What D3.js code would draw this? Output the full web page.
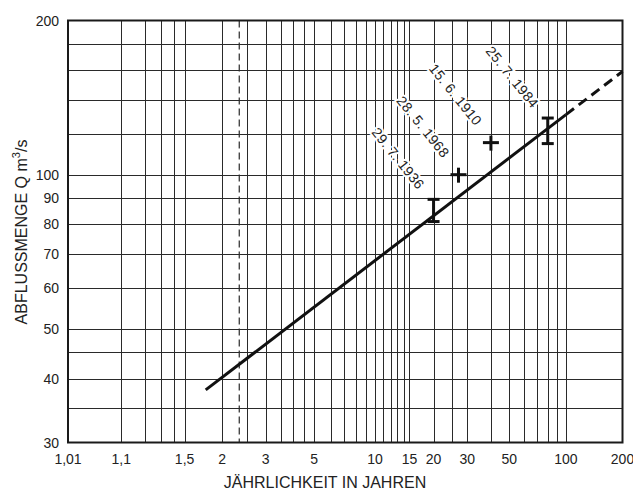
<!DOCTYPE html>
<html>
<head>
<meta charset="utf-8">
<script src="https://cdn.jsdelivr.net/npm/d3@7"></script>
<style>
  body { margin: 0; background: #fff; }
  svg text { font-family: "Liberation Sans", Arial, sans-serif; fill: #222; }
</style>
</head>
<body>
<svg width="633" height="491"></svg>
<script>
// Return periods (years) for x ticks and grid
var xTickValues = [1.01, 1.1, 1.5, 2, 3, 5, 10, 15, 20, 30, 50, 100, 200];
var xTickLabels = ['1,01', '1,1', '1,5', '2', '3', '5', '10', '15', '20', '30', '50', '100', '200'];
var xGridValues = [1.1, 1.2, 1.3, 1.4, 1.5, 2, 2.5, 3, 3.5, 4, 4.5, 5, 6, 7, 8, 9,
    10, 11, 12, 13, 14, 15, 20, 25, 30, 40, 50, 60, 70, 80, 90, 100];
var meanFloodT = 2.33;

// Discharge (m3/s) ticks and grid
var yTickValues = [30, 40, 50, 60, 70, 80, 90, 100, 200];
var yGridValues = [35, 40, 45, 50, 60, 70, 80, 90, 100, 120, 140, 160, 180];

// Flood events
var eventLabels = ['29. 7. 1936', '28. 5. 1968', '15. 6. 1910', '25. 7. 1984'];
var eventT = [20, 27, 40, 80];
var eventQ = [85, 100, 115.5, 122];
var eventLow = [81, null, null, 115];
var eventHigh = [89.5, null, null, 129];

// Fitted line (solid up to 100 years, dashed beyond)
var fitT = [1.75, 100, 200];
var fitQ = [38, 131, 159];

var svg = d3.select('svg');
var padding = {t: 20.5, r: 10.5, b: 48.5, l: 68};
var svgWidth = +svg.attr('width');
var svgHeight = +svg.attr('height');

// Gumbel reduced variate
function gumbel(T) {
    return -Math.log(-Math.log(1 - 1 / T));
}

var gScale = d3.scaleLinear()
    .domain([gumbel(1.01), gumbel(200)])
    .range([padding.l, svgWidth - padding.r]);
var xScale = function(T) { return gScale(gumbel(T)); };

var yScale = d3.scaleLog()
    .domain([30, 200])
    .range([svgHeight - padding.b, padding.t]);

var x0 = xScale(1.01), x1 = xScale(200);
var y0 = yScale(30), y1 = yScale(200);

var gridG = svg.append('g').attr('stroke', '#2a2a2a').attr('stroke-width', 1);

gridG.selectAll('.vgrid')
    .data(xGridValues)
    .enter().append('line')
    .attr('class', 'vgrid')
    .attr('x1', function(d) { return Math.round(xScale(d)) + 0.5; })
    .attr('x2', function(d) { return Math.round(xScale(d)) + 0.5; })
    .attr('y1', y1).attr('y2', y0);

gridG.selectAll('.hgrid')
    .data(yGridValues)
    .enter().append('line')
    .attr('class', 'hgrid')
    .attr('y1', function(d) { return Math.round(yScale(d)) + 0.5; })
    .attr('y2', function(d) { return Math.round(yScale(d)) + 0.5; })
    .attr('x1', x0).attr('x2', x1);

// mean annual flood, dashed
svg.append('line')
    .attr('x1', xScale(meanFloodT)).attr('x2', xScale(meanFloodT))
    .attr('y1', y1).attr('y2', y0)
    .attr('stroke', '#2a2a2a')
    .attr('stroke-width', 1.2)
    .attr('stroke-dasharray', '7,4');

// frame
svg.append('rect')
    .attr('x', x0).attr('y', y1)
    .attr('width', x1 - x0).attr('height', y0 - y1)
    .attr('fill', 'none')
    .attr('stroke', '#1a1a1a')
    .attr('stroke-width', 2);

// tick labels
svg.selectAll('.xlabel')
    .data(xTickValues)
    .enter().append('text')
    .attr('class', 'xlabel')
    .attr('x', function(d) { return xScale(d); })
    .attr('y', y0 + 21)
    .attr('text-anchor', 'middle')
    .attr('font-size', 14)
    .text(function(d, i) { return xTickLabels[i]; });

svg.selectAll('.ylabel')
    .data(yTickValues)
    .enter().append('text')
    .attr('class', 'ylabel')
    .attr('x', x0 - 9)
    .attr('y', function(d) { return yScale(d); })
    .attr('dy', '0.36em')
    .attr('text-anchor', 'end')
    .attr('font-size', 14)
    .text(function(d) { return d; });

// axis titles
svg.append('text')
    .attr('x', 325)
    .attr('y', 488)
    .attr('text-anchor', 'middle')
    .attr('font-size', 16)
    .text('JÄHRLICHKEIT IN JAHREN');

var yTitle = svg.append('text')
    .attr('transform', 'translate(26.5,' + 232 + ') rotate(-90)')
    .attr('text-anchor', 'middle')
    .attr('font-size', 16);
yTitle.append('tspan').text('ABFLUSSMENGE Q m');
yTitle.append('tspan').attr('dy', -7).attr('font-size', 11).text('3');
yTitle.append('tspan').attr('dy', 7).text('/s');

// fitted line
var line = d3.line()
    .x(function(d) { return xScale(d[0]); })
    .y(function(d) { return yScale(d[1]); });

svg.append('path')
    .datum([[fitT[0], fitQ[0]], [fitT[1], fitQ[1]]])
    .attr('d', line)
    .attr('fill', 'none')
    .attr('stroke', '#111')
    .attr('stroke-width', 3);

svg.append('path')
    .datum([[fitT[1], fitQ[1]], [fitT[2], fitQ[2]]])
    .attr('d', line)
    .attr('fill', 'none')
    .attr('stroke', '#111')
    .attr('stroke-width', 3)
    .attr('stroke-dasharray', '10,6');

// events: I-bars for ranges, crosses otherwise
var events = eventLabels.map(function(label, i) {
    return {label: label, T: eventT[i], Q: eventQ[i], low: eventLow[i], high: eventHigh[i]};
});

var evG = svg.selectAll('.event')
    .data(events)
    .enter().append('g')
    .attr('class', 'event')
    .attr('stroke', '#111')
    .attr('stroke-width', 3);

evG.each(function(d) {
    var g = d3.select(this);
    var cx = xScale(d.T);
    if (d.low != null) {
        var yl = yScale(d.low), yh = yScale(d.high);
        g.append('line').attr('x1', cx).attr('x2', cx).attr('y1', yh).attr('y2', yl);
        g.append('line').attr('x1', cx - 6).attr('x2', cx + 6).attr('y1', yh).attr('y2', yh);
        g.append('line').attr('x1', cx - 6).attr('x2', cx + 6).attr('y1', yl).attr('y2', yl);
        d.top = yh;
    } else {
        var cy = yScale(d.Q);
        g.append('line').attr('x1', cx).attr('x2', cx).attr('y1', cy - 7).attr('y2', cy + 8);
        g.append('line').attr('x1', cx - 8).attr('x2', cx + 8).attr('y1', cy).attr('y2', cy);
        d.top = cy - 7;
    }
});

svg.selectAll('.evlabel')
    .data(events)
    .enter().append('text')
    .attr('class', 'evlabel')
    .attr('transform', function(d) {
        return 'translate(' + [xScale(d.T) - 12, d.top - 12] + ') rotate(51)';
    })
    .attr('text-anchor', 'end')
    .attr('dy', '0.35em')
    .attr('font-size', 14)
    .attr('letter-spacing', 0.4)
    .attr('stroke', '#fff')
    .attr('stroke-width', 4)
    .attr('paint-order', 'stroke')
    .text(function(d) { return d.label; });
</script>
</body>
</html>
